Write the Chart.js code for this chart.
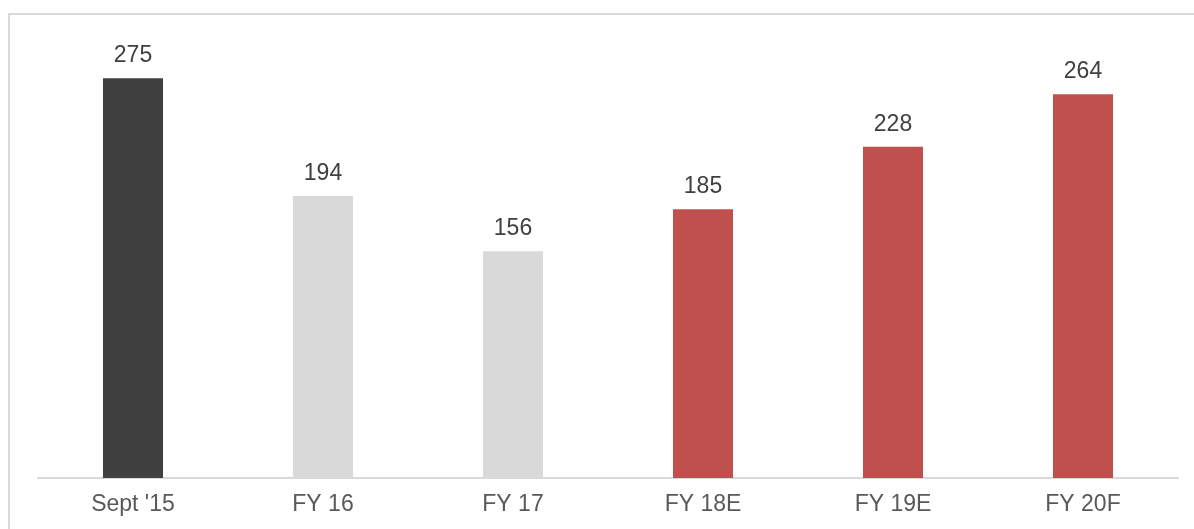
<!DOCTYPE html>
<html lang="en">
<head>
    <meta charset="UTF-8">
    <title>Bar chart</title>
    <script src="https://cdn.jsdelivr.net/npm/chart.js"></script>
    <style>
        body {
            margin: 0;
            background: #ffffff;
            font-family: "Liberation Sans", Arial, sans-serif;
        }
        #wrap {
            position: relative;
            width: 1194px;
            height: 529px;
            overflow: hidden;
        }
        #frame {
            position: absolute;
            left: 8px;
            top: 13px;
            width: 1300px;
            height: 700px;
            border: 2px solid #d9d9d9;
            box-sizing: border-box;
        }
        #chart-box {
            position: absolute;
            left: 0;
            top: 0;
            width: 1194px;
            height: 529px;
        }
    </style>
</head>
<body>
    <div id="wrap">
        <div id="frame"></div>
        <div id="chart-box">
            <canvas id="chart"></canvas>
        </div>
    </div>

    <script>
        const categories = ["Sept '15", 'FY 16', 'FY 17', 'FY 18E', 'FY 19E', 'FY 20F'];
        const values = [275, 194, 156, 185, 228, 264];
        const barColors = ['#404040', '#d9d9d9', '#d9d9d9', '#c0504d', '#c0504d', '#c0504d'];

        // draw the value above each bar
        const valueLabels = {
            id: 'valueLabels',
            afterDatasetsDraw(chart) {
                const ctx = chart.ctx;
                const meta = chart.getDatasetMeta(0);
                ctx.save();
                ctx.font = '23px "Liberation Sans", Arial, sans-serif';
                ctx.fillStyle = '#404040';
                ctx.textAlign = 'center';
                ctx.textBaseline = 'alphabetic';
                meta.data.forEach((bar, i) => {
                    ctx.fillText(values[i], bar.x, bar.y - 16);
                });
                ctx.restore();
            }
        };

        new Chart(document.getElementById('chart'), {
            type: 'bar',
            data: {
                labels: categories,
                datasets: [{
                    data: values,
                    backgroundColor: barColors,
                    borderWidth: 0,
                    categoryPercentage: 1,
                    barPercentage: 0.316
                }]
            },
            options: {
                responsive: true,
                maintainAspectRatio: false,
                animation: false,
                layout: {
                    padding: { left: 38, right: 16, top: 42, bottom: 0 }
                },
                plugins: {
                    legend: { display: false },
                    tooltip: { enabled: false }
                },
                scales: {
                    x: {
                        grid: { display: false, drawTicks: false },
                        border: { display: true, color: '#d9d9d9', width: 2 },
                        ticks: {
                            color: '#595959',
                            padding: 13,
                            font: { family: '"Liberation Sans", Arial, sans-serif', size: 23 }
                        },
                        afterFit(scale) {
                            scale.height = 51;
                        }
                    },
                    y: {
                        display: false,
                        min: 0,
                        max: 300
                    }
                }
            },
            plugins: [valueLabels]
        });
    </script>
</body>
</html>
